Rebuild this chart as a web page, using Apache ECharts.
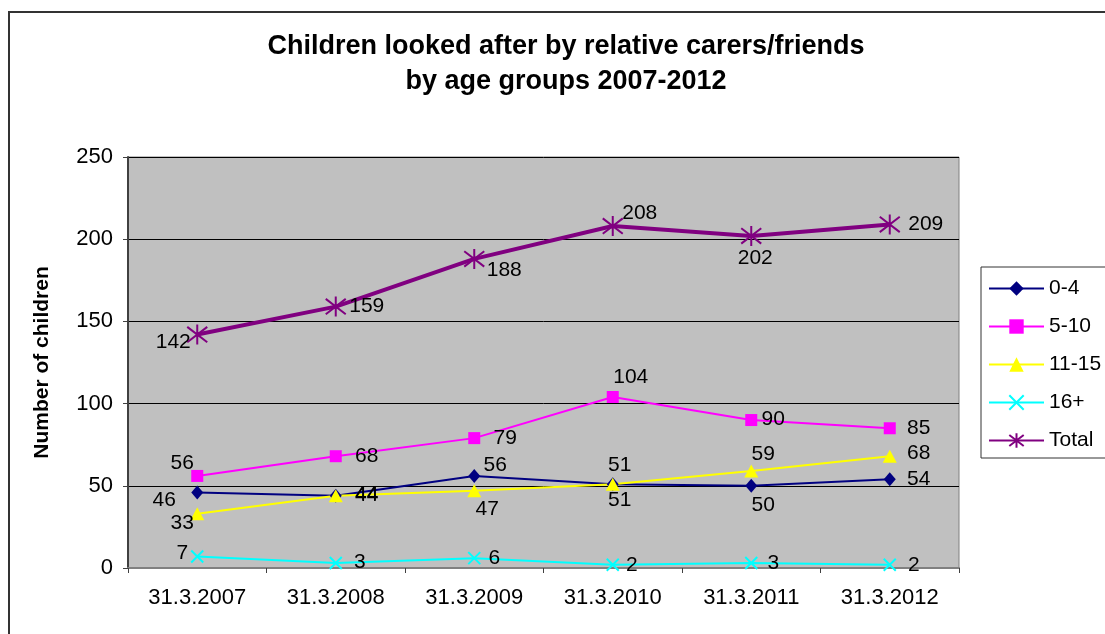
<!DOCTYPE html>
<html>
<head>
<meta charset="utf-8">
<script src="https://cdn.jsdelivr.net/npm/echarts@6/dist/echarts.min.js"></script>
<style>
html,body{margin:0;padding:0;background:#fff;}
#c{width:1105px;height:634px;}
</style>
</head>
<body>
<div id="c"></div>
<script>
const categories = ['31.3.2007','31.3.2008','31.3.2009','31.3.2010','31.3.2011','31.3.2012'];
const age0_4   = [46, 44, 56, 51, 50, 54];
const age5_10  = [56, 68, 79, 104, 90, 85];
const age11_15 = [33, 44, 47, 51, 59, 68];
const age16p   = [7, 3, 6, 2, 3, 2];
const total    = [142, 159, 188, 208, 202, 209];
const yTicks   = [0, 50, 100, 150, 200, 250];

// label offsets (styling only): [dx, dy] from point to label centre
const off0_4   = [[-33,8],[31,-1],[21,-11],[7,-19],[12,19],[29,0]];
const off5_10  = [[-15,-13],[31,0],[31,0],[18,-20],[22,-1],[29,0]];
const off11_15 = [[-15,9],[31,0],[13,18],[7,16],[12,-17],[29,-3]];
const off16p   = [[-15,-3],[24,-1],[20,0],[19,0],[22,0],[24,0]];
const offTotal = [[-24,8],[31,0],[30,11],[27,-13],[4,22],[36,0]];

const FONT = '"Liberation Sans", Arial, sans-serif';

function mk(vals, offs) {
  return vals.map((v, i) => ({ value: v, label: { offset: offs[i] } }));
}

const crossPath = 'path://M0,0L10,10M10,0L0,10';
const starPath = 'path://M0,0L10,10M10,0L0,10M5,-1.5L5,11.5';

function series(name, vals, offs, color, width, symbol, size, stroke) {
  return {
    name: name,
    type: 'line',
    data: mk(vals, offs),
    symbol: symbol,
    symbolSize: size,
    showAllSymbol: true,
    lineStyle: { color: color, width: width },
    itemStyle: stroke
      ? { color: 'rgba(0,0,0,0)', borderColor: color, borderWidth: 2 }
      : { color: color, borderWidth: 0 },
    label: {
      show: true, position: 'inside', color: '#000',
      fontSize: 21, fontFamily: FONT, align: 'center', verticalAlign: 'middle'
    },
    emphasis: { disabled: true },
    animation: false
  };
}

const chart = echarts.init(document.getElementById('c'), null, { renderer: 'canvas' });
chart.setOption({
  animation: false,
  backgroundColor: '#fff',
  textStyle: { fontFamily: FONT },
  title: {
    text: 'Children looked after by relative carers/friends\nby age groups 2007-2012',
    left: 566, top: 29, textAlign: 'center', padding: 0,
    textStyle: { fontSize: 27, fontWeight: 'bold', color: '#000', lineHeight: 35, fontFamily: FONT }
  },
  graphic: [
    { type: 'rect', shape: { x: 9, y: 12, width: 1200, height: 700 },
      style: { fill: 'none', stroke: '#333', lineWidth: 2 }, z: -1 },
    { type: 'rect', shape: { x: 981, y: 267, width: 200, height: 191 },
      style: { fill: '#fff', stroke: '#333', lineWidth: 1 }, z: 0 }
  ],
  legend: {
    orient: 'vertical',
    left: 988, top: 278, padding: 0,
    itemWidth: 55, itemHeight: 18, itemGap: 17,
    textStyle: { fontSize: 21, color: '#000', fontFamily: FONT, lineHeight: 21 },
    data: ['0-4','5-10','11-15','16+','Total'],
    z: 5
  },
  grid: {
    left: 128, right: 146, top: 157, bottom: 66,
    show: true, backgroundColor: '#C0C0C0', borderColor: '#808080', borderWidth: 1
  },
  xAxis: {
    type: 'category',
    data: categories,
    boundaryGap: true,
    axisLine: { lineStyle: { color: '#808080', width: 2 } },
    axisTick: { show: true, length: 5, inside: false, alignWithLabel: false, lineStyle: { color: '#404040' } },
    axisLabel: { fontSize: 22, color: '#000', margin: 19, fontFamily: FONT }
  },
  yAxis: {
    type: 'value',
    min: yTicks[0], max: yTicks[yTicks.length - 1], interval: 50,
    name: 'Number of children',
    nameLocation: 'middle', nameGap: 75, nameRotate: 90,
    nameTextStyle: { fontSize: 21, fontWeight: 'bold', color: '#000', fontFamily: FONT },
    axisLine: { show: true, lineStyle: { color: '#404040', width: 2 } },
    axisTick: { show: true, length: 5, lineStyle: { color: '#404040' } },
    axisLabel: { fontSize: 22, color: '#000', margin: 15, fontFamily: FONT },
    splitLine: { show: true, lineStyle: { color: '#000', width: 1 } }
  },
  series: [
    series('0-4', age0_4, off0_4, '#000080', 2, 'diamond', [12, 14], false),
    series('5-10', age5_10, off5_10, '#FF00FF', 2, 'rect', 12, false),
    series('11-15', age11_15, off11_15, '#FFFF00', 2, 'triangle', [14, 13], false),
    series('16+', age16p, off16p, '#00FFFF', 2, crossPath, 12, true),
    series('Total', total, offTotal, '#800080', 4, starPath, 20, true)
  ]
});
</script>
</body>
</html>
